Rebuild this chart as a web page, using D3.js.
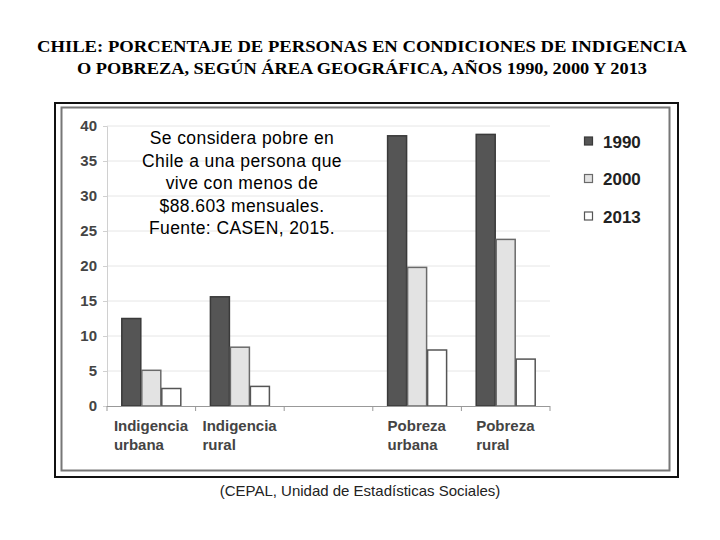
<!DOCTYPE html>
<html lang="es">
<head>
  <meta charset="UTF-8">
  <title>Chile: pobreza e indigencia</title>
  <style>
    * { margin: 0; padding: 0; }
    body { background: #fff; width: 720px; height: 540px; overflow: hidden; }
    svg { display: block; }
  </style>
  <script src="https://cdnjs.cloudflare.com/ajax/libs/d3/7.8.5/d3.min.js"></script>
</head>
<body>
  <svg id="chart" width="720" height="540"></svg>
  <script>
    // data
    const categories = ['Indigencia urbana', 'Indigencia rural', '', 'Pobreza urbana', 'Pobreza rural'];
    const years = ['1990', '2000', '2013'];
    const v1990 = [12.5, 15.6, null, 38.6, 38.8];
    const v2000 = [5.1, 8.4, null, 19.8, 23.8];
    const v2013 = [2.5, 2.8, null, 8.0, 6.7];
    const yTicks = [0, 5, 10, 15, 20, 25, 30, 35, 40];
    const noteLines = ['Se considera pobre en', 'Chile a una persona que', 'vive con menos de',
      '$88.603 mensuales.', 'Fuente: CASEN, 2015.'];

    const fills = ['#555555', '#e3e3e3', '#ffffff'];
    const strokes = ['#3a3a3a', '#6a6a6a', '#555555'];

    const svg = d3.select('#chart');

    // title
    const title = svg.append('text')
      .attr('x', 362).attr('text-anchor', 'middle')
      .style('font-family', '"Liberation Serif", serif')
      .style('font-weight', 'bold')
      .style('font-size', '17px')
      .attr('fill', '#000');
    title.append('tspan').attr('x', 362).attr('y', 52)
      .attr('textLength', 650).attr('lengthAdjust', 'spacingAndGlyphs')
      .text('CHILE: PORCENTAJE DE PERSONAS EN CONDICIONES DE INDIGENCIA');
    title.append('tspan').attr('x', 362).attr('y', 74)
      .attr('textLength', 570).attr('lengthAdjust', 'spacingAndGlyphs')
      .text('O POBREZA, SEGÚN ÁREA GEOGRÁFICA, AÑOS 1990, 2000 Y 2013');

    // frames
    svg.append('rect').attr('x', 55).attr('y', 103).attr('width', 623).attr('height', 374)
      .attr('fill', 'none').attr('stroke', '#111').attr('stroke-width', 2);
    svg.append('rect').attr('x', 61.5).attr('y', 107.5).attr('width', 608).attr('height', 363)
      .attr('fill', 'none').attr('stroke', '#777').attr('stroke-width', 2);

    const x0 = d3.scaleBand().domain(d3.range(categories.length)).range([107, 550]);
    const x1 = d3.scaleBand().domain(years).range([0, 60]);
    const y = d3.scaleLinear().domain([0, 40]).range([406, 126]);

    // gridlines
    svg.append('g').selectAll('line').data(yTicks.filter(d => d > 0)).join('line')
      .attr('x1', 107).attr('x2', 550)
      .attr('y1', d => y(d)).attr('y2', d => y(d))
      .attr('stroke', '#e6e6e6').attr('stroke-width', 1);

    // y axis
    const yAxis = svg.append('g').attr('transform', 'translate(107,0)')
      .call(d3.axisLeft(y).tickValues(yTicks).tickSize(4).tickPadding(6));
    yAxis.select('.domain').attr('stroke', '#d0d0d0');
    yAxis.selectAll('.tick line').attr('stroke', '#d0d0d0');
    yAxis.selectAll('.tick text')
      .style('font-family', '"Liberation Sans", Arial, sans-serif')
      .style('font-weight', 'bold').style('font-size', '15px').attr('fill', '#444');

    // bars
    const series = [v1990, v2000, v2013];
    years.forEach((yr, s) => {
      svg.append('g').selectAll('rect')
        .data(series[s].map((v, i) => ({ v, i })).filter(d => d.v != null))
        .join('rect')
        .attr('x', d => x0(d.i) + (x0.bandwidth() - 60) / 2 + x1(yr) + 0.5)
        .attr('y', d => y(d.v))
        .attr('width', x1.bandwidth() - 1)
        .attr('height', d => y(0) - y(d.v))
        .attr('fill', fills[s]).attr('stroke', strokes[s]).attr('stroke-width', 1.5);
    });

    // x axis baseline and category ticks
    svg.append('line').attr('x1', 107).attr('x2', 550).attr('y1', 406.5).attr('y2', 406.5)
      .attr('stroke', '#999');
    svg.append('g').selectAll('line').data(d3.range(categories.length + 1)).join('line')
      .attr('x1', d => 107 + d * x0.bandwidth()).attr('x2', d => 107 + d * x0.bandwidth())
      .attr('y1', 406).attr('y2', 411).attr('stroke', '#999');

    // category labels, lines left-aligned, block centred under the band
    categories.forEach((c, i) => {
      if (!c) return;
      const parts = c.split(' ');
      const t = svg.append('text')
        .style('font-family', '"Liberation Sans", Arial, sans-serif')
        .style('font-weight', 'bold').style('font-size', '15px').attr('fill', '#444');
      parts.forEach((p, k) => t.append('tspan').attr('x', 0).attr('y', 431 + k * 19).text(p));
      const w = t.node().getBBox().width;
      const left = x0(i) + x0.bandwidth() / 2 - w / 2;
      t.selectAll('tspan').attr('x', left);
    });

    // note text
    const note = svg.append('text').attr('text-anchor', 'middle')
      .style('font-family', '"Liberation Sans", Arial, sans-serif')
      .style('font-size', '17.5px').style('letter-spacing', '0.4px').attr('fill', '#000');
    noteLines.forEach((l, k) => note.append('tspan').attr('x', 242).attr('y', 144 + k * 22.5).text(l));

    // legend
    const leg = svg.append('g');
    years.forEach((yr, s) => {
      const ly = 141 + s * 37.5;
      leg.append('rect').attr('x', 584.5).attr('y', ly - 4).attr('width', 8).attr('height', 8)
        .attr('fill', fills[s]).attr('stroke', strokes[s]).attr('stroke-width', 1.2);
      leg.append('text').attr('x', 603).attr('y', ly + 6.5)
        .style('font-family', '"Liberation Sans", Arial, sans-serif')
        .style('font-weight', 'bold').style('font-size', '17px').attr('fill', '#222')
        .text(yr);
    });

    // source
    svg.append('text').attr('x', 360).attr('y', 496).attr('text-anchor', 'middle')
      .style('font-family', '"Liberation Sans", Arial, sans-serif')
      .style('font-size', '15px').attr('fill', '#222')
      .text('(CEPAL, Unidad de Estadísticas Sociales)');
  </script>
</body>
</html>
